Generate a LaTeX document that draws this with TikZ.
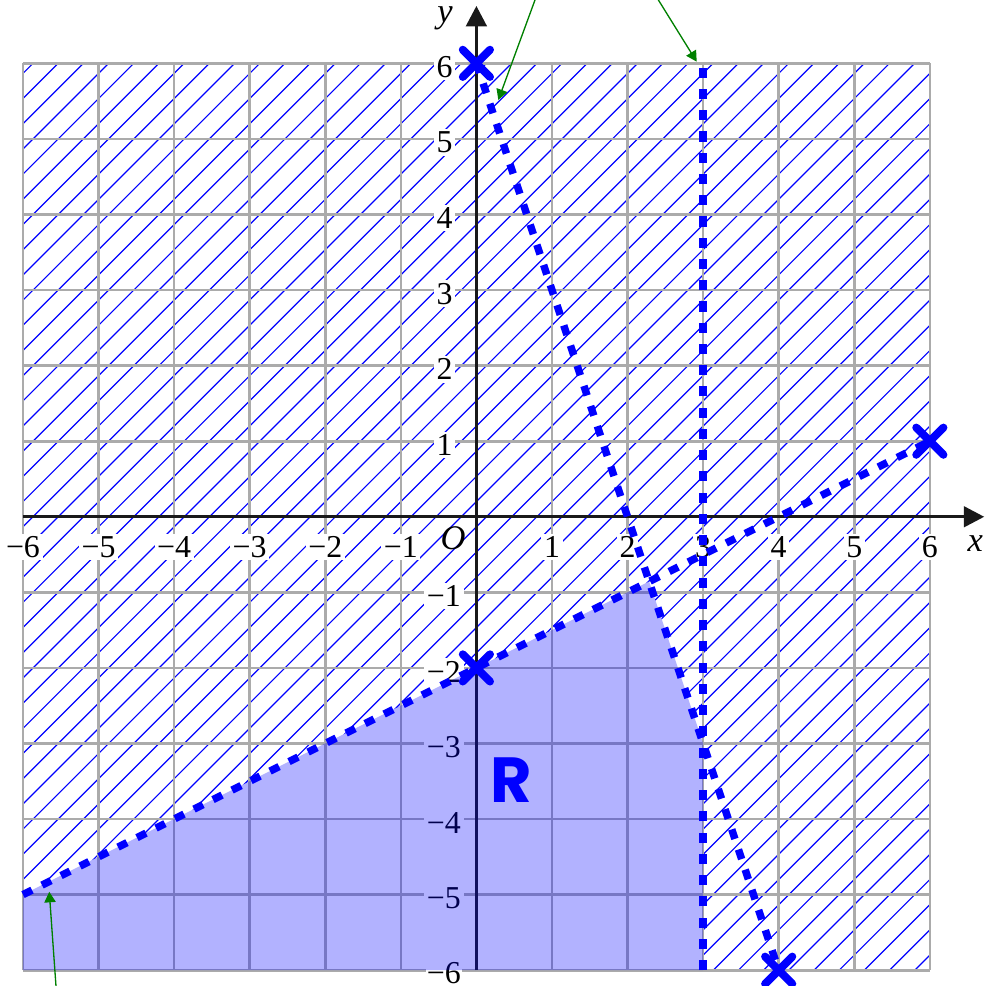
\documentclass[tikz,border=0pt]{standalone}
\usepackage{fontspec}
\setmainfont{Liberation Serif}
\newfontfamily\rfont{Poppins}
\usetikzlibrary{arrows.meta}
\begin{document}
\begin{tikzpicture}[x=1cm,y=1cm,
  gridline/.style={black!33, line width=1pt},
  hatch/.style={blue, line width=0.45pt},
  bound/.style={blue, line width=2.8pt, dash pattern=on 3.8pt off 4.2pt},
  crossmark/.style={blue, line width=3pt, line cap=round},
  axisline/.style={black!90, line width=1.3pt, -{Triangle[length=0.27cm,width=0.27cm]}},
  ticklab/.style={fill=white, inner sep=1pt, font=\fontsize{12}{14}\selectfont},
  axlab/.style={inner sep=0pt, font=\fontsize{13}{15}\selectfont\itshape},
  note/.style={green!50!black, line width=0.5pt, -{Triangle[length=0.14cm,width=0.15cm]}},
  regionfill/.style={fill=blue, fill opacity=0.3}
]
\useasboundingbox (-6.304,-6.209) rectangle (6.730,6.838);
% key points
\coordinate (P1) at (0,6);
\coordinate (P2) at (4,-6);
\coordinate (Q1) at (-6,-5);
\coordinate (Q2) at (6,1);
\coordinate (Q0) at (0,-2);
\coordinate (V1) at (3,-6);
\coordinate (V2) at (3,6);
\coordinate (I1) at ({16/7},{-6/7});
\coordinate (I2) at (3,-3);
% hatching of the area outside R
\begin{scope}
  \clip (Q1) -- (I1) -- (I2) -- (V1) -- (6,-6) -- (6,6) -- (-6,6) -- cycle;
  \foreach \k in {-38,...,38}
    \draw[hatch] (-6,{-6+\k/3+0.2}) -- (6,{6+\k/3+0.2});
\end{scope}
% grid
\foreach \i in {-6,...,6} {
  \draw[gridline] (\i,-6) -- (\i,6);
  \draw[gridline] (-6,\i) -- (6,\i);
}
% axes
\coordinate (xs) at (-6,0);
\coordinate (xe) at (6.72,0);
\coordinate (ys) at (0,-6);
\coordinate (ye) at (0,6.76);
\draw[axisline] (xs) -- (xe);
\draw[axisline] (ys) -- (ye);
% tick labels
\foreach \i in {1,...,6} {
  \node[ticklab] (xp\i) at (\i,-0.4) {\i};
  \node[ticklab] (xn\i) at (-\i,-0.4) {−\i};
  \node[ticklab] (yp\i) at (-0.42,{\i-0.05}) {\i};
}
\foreach \i in {1,...,5}
  \node[ticklab] (yn\i) at (-0.43,{-\i-0.05}) {−\i};
\node[ticklab, inner sep=0.5pt] (yn6) at (-0.43,-6.04) {−6};
\node[axlab] (O) at (-0.31,-0.29) {O};
\node[axlab] (xl) at (6.6,-0.35) {x};
\node[axlab] (yl) at (-0.415,6.6) {y};
% region R (translucent, over grid and labels)
\fill[regionfill] (-6,-6) -- (Q1) -- (I1) -- (I2) -- (V1) -- cycle;
% boundary lines
\draw[bound] (P1) -- (P2);
\draw[bound] (Q1) -- (Q2);
\draw[bound] (V1) -- (V2);
% crosses
\foreach \p in {P1,P2,Q2,Q0}
  \draw[crossmark] (\p) +(-0.18,-0.18) -- +(0.18,0.18)
                   (\p) +(-0.18,0.18) -- +(0.18,-0.18);
% green pointers
\coordinate (a1s) at (0.776,6.84);
\coordinate (a1e) at (0.290,5.515);
\coordinate (a2s) at (2.407,6.84);
\coordinate (a2e) at (2.915,6.022);
\coordinate (a3s) at (-5.563,-6.21);
\coordinate (a3e) at (-5.652,-4.962);
\draw[note] (a1s) -- (a1e);
\draw[note] (a2s) -- (a2e);
\draw[note] (a3s) -- (a3e);
% region label
\node[text=blue, inner sep=0pt, font=\rfont\bfseries\fontsize{24}{26}\selectfont] (R) at (0.46,-3.48) {R};
\end{tikzpicture}
\end{document}
